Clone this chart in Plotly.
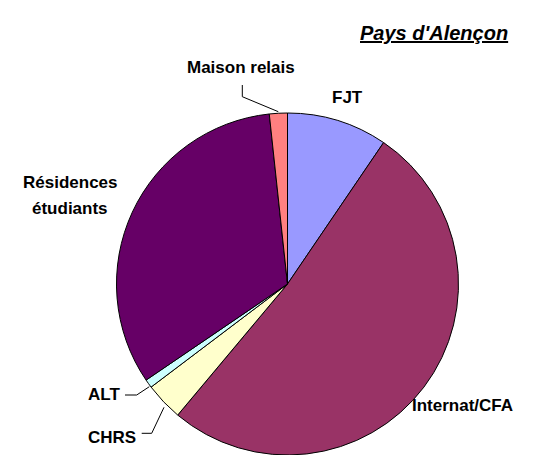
import plotly.graph_objects as go

# Page body has an 8px margin; the figure is sized to fit the 550x455 window.
OFF = 8
W, H = 550 - OFF, 455 - OFF

categories = ["FJT", "Internat/CFA", "CHRS", "ALT", "Résidences étudiants", "Maison relais"]
values = [9.5, 51.6, 3.6, 0.8, 32.8, 1.7]
colors = ["#9999FF", "#993366", "#FFFFCC", "#CCFFFF", "#660066", "#FF8080"]
title_text = "Pays d'Alençon"


def px(x):
    return (x - OFF) / W


def py(y):
    return 1 - (y - OFF) / H


# pie geometry in reference-window pixels
cx, cy, r = 287.5, 284.0, 171.0

fig = go.Figure(go.Pie(
    labels=categories,
    values=values,
    sort=False,
    direction="clockwise",
    rotation=0,
    marker=dict(colors=colors, line=dict(color="black", width=1)),
    textinfo="none",
    hoverinfo="label+percent",
    domain=dict(x=[max(0, px(cx - r)), min(1, px(cx + r))],
                y=[max(0, py(cy + r)), min(1, py(cy - r))]),
    showlegend=False,
))

font = dict(family="Liberation Sans, Arial, sans-serif", size=17, color="black")

label_items = [
    ("FJT", 347, 97),
    ("Internat/CFA", 462, 405),
    ("CHRS", 112, 437),
    ("ALT", 104, 394),
    ("Résidences", 70, 182),
    ("étudiants", 70, 208),
    ("Maison relais", 241, 67),
]

annotations = []
for txt, x, y in label_items:
    annotations.append(dict(
        x=px(x), y=py(y), xref="paper", yref="paper",
        text="<b>" + txt + "</b>", showarrow=False, font=font,
        xanchor="center", yanchor="middle", align="center",
    ))

annotations.append(dict(
    x=px(434), y=py(33), xref="paper", yref="paper",
    text="<u><b><i>" + title_text + "</i></b></u>", showarrow=False,
    font=dict(family="Liberation Sans, Arial, sans-serif", size=20, color="black"),
    xanchor="center", yanchor="middle",
))

leader_lines = [
    [(242.3, 85), (242.3, 96.7), (278.3, 111.7)],
    [(125, 395), (136.7, 395), (149.3, 386.7)],
    [(141.7, 433.3), (151.7, 433.3), (164, 407.3)],
]
shapes = []
for pts in leader_lines:
    path = "M " + " L ".join(f"{px(x)},{py(y)}" for x, y in pts)
    shapes.append(dict(type="path", path=path, xref="paper", yref="paper",
                       line=dict(color="black", width=1)))

fig.update_layout(
    width=W, height=H,
    margin=dict(l=0, r=0, t=0, b=0),
    paper_bgcolor="white", plot_bgcolor="white",
    annotations=annotations,
    shapes=shapes,
)

fig.write_html("out.html")
